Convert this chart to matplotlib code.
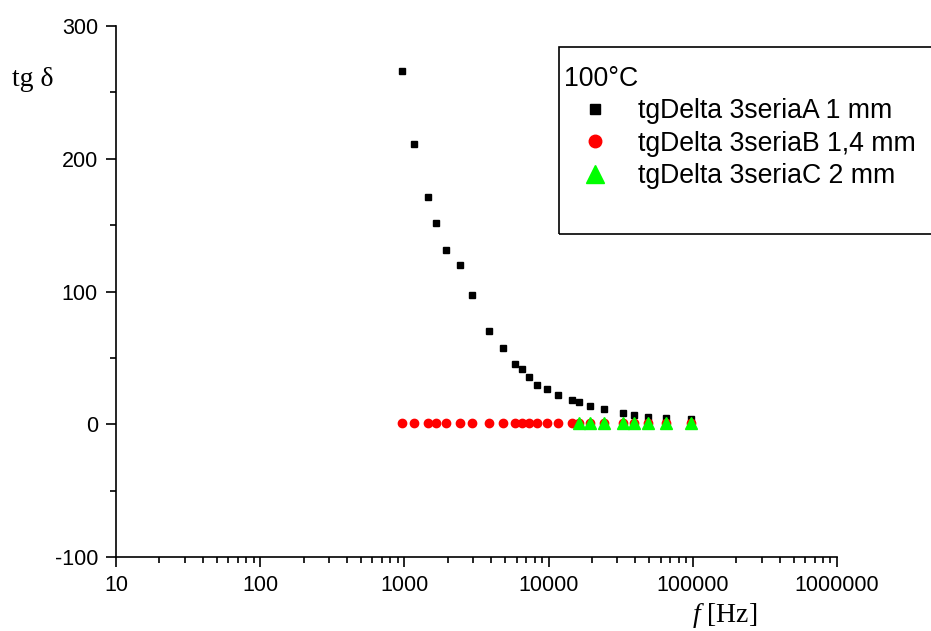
import matplotlib
matplotlib.use('Agg')
import matplotlib.pyplot as plt
from matplotlib.patches import Rectangle
from matplotlib.ticker import NullFormatter, FixedLocator

# data
freq = [970, 1160, 1460, 1660, 1940, 2430, 2930, 3880, 4850, 5820, 6510, 7310,
        8350, 9750, 11700, 14500, 16200, 19400, 24300, 32700, 39100, 48700, 64900, 96700]
tg_A = [266.3, 210.9, 171.4, 151.8, 131.3, 120.0, 97.4, 70.5, 57.2, 45.6, 41.4, 35.8,
        29.3, 26.3, 22.3, 18.0, 16.5, 13.7, 11.3, 8.7, 7.2, 5.7, 4.9, 3.7]
tg_B = [1.2, 1.2, 1.2, 1.2, 1.2, 1.2, 1.2, 1.2, 1.2, 1.2, 1.2, 1.2,
        1.2, 1.2, 1.2, 1.2, 1.2, 1.2, 1.2, 1.2, 1.2, 1.2, 1.2, 1.2]
freq_C = [16200, 19400, 24300, 32700, 39100, 48700, 64900, 96700]
tg_C = [1.2, 1.2, 1.2, 1.2, 1.2, 1.2, 1.2, 1.2]

labels = ['tgDelta 3seriaA 1 mm', 'tgDelta 3seriaB 1,4 mm', 'tgDelta 3seriaC 2 mm']
legend_title = '100°C'
x_ticks = [10, 100, 1000, 10000, 100000, 1000000]
x_ticklabels = ['10', '100', '1000', '10000', '100000', '1000000']
y_ticks = [-100, 0, 100, 200, 300]

plt.rcParams['font.family'] = ['Liberation Sans', 'DejaVu Sans']
plt.rcParams['axes.unicode_minus'] = False
plt.rcParams['mathtext.fontset'] = 'custom'
plt.rcParams['mathtext.rm'] = 'Liberation Serif'
plt.rcParams['mathtext.it'] = 'Liberation Serif:italic'

W, H = 931, 631
fig = plt.figure(figsize=(W / 100, H / 100), dpi=100)
ax = fig.add_axes([116 / W, 1 - 557 / H, (837 - 116) / W, (557 - 26) / H])

hA, = ax.plot(freq, tg_A, ls='none', marker='s', ms=5, color='black', mec='black')
hB, = ax.plot(freq, tg_B, ls='none', marker='o', ms=6, color='#ff0000', mec='#ff0000')
hC, = ax.plot(freq_C, tg_C, ls='none', marker='^', ms=9, color='#00ff00', mec='#00ff00')

ax.set_xscale('log')
ax.set_xlim(10, 1000000)
ax.set_ylim(-100, 300)
ax.set_xticks(x_ticks, x_ticklabels)
ax.xaxis.set_minor_formatter(NullFormatter())
ax.set_yticks(y_ticks)
ax.yaxis.set_minor_locator(FixedLocator([-50, 50, 150, 250]))

for s in ['top', 'right']:
    ax.spines[s].set_visible(False)
for s in ['left', 'bottom']:
    ax.spines[s].set_linewidth(1.2)

ax.tick_params(which='major', direction='out', length=7, width=1.2, labelsize=15.5, pad=6)
ax.tick_params(which='minor', direction='out', length=4, width=1.2)

# axis titles
fig.text(12 / W, 1 - 80 / H, 'tg δ', family='Liberation Serif', fontsize=20, ha='left', va='center')
fig.text(692 / W, 1 - 615 / H, r'$\mathit{f}$ [Hz]', family='Liberation Serif', fontsize=20,
         ha='left', va='center')

# legend box (runs past the right edge like the original)
fig.add_artist(Rectangle((559 / W, 1 - 234 / H), (1000 - 559) / W, (234 - 47) / H,
                         transform=fig.transFigure, fill=False, lw=1.2, ec='black', clip_on=False))
leg = ax.legend([hA, hB, hC], labels, title=legend_title, loc='upper left',
                bbox_to_anchor=(564 / W, 1 - 66 / H), bbox_transform=fig.transFigure,
                frameon=False, borderpad=0, borderaxespad=0, handlelength=2.32,
                handletextpad=0.44, labelspacing=0.24, alignment='left',
                prop={'size': 19.2}, title_fontsize=19.2, markerscale=1.5)

plt.savefig('out.png', dpi=100)
